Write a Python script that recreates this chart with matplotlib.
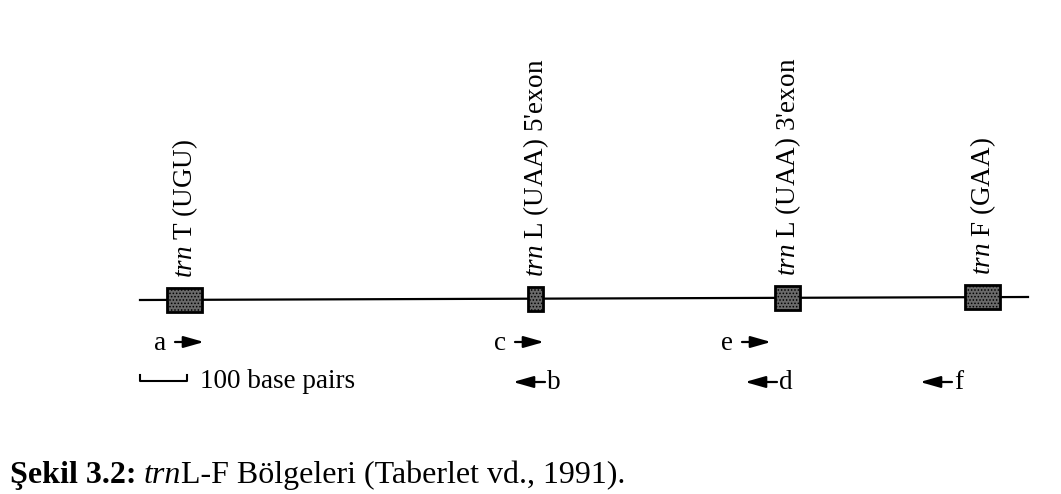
import matplotlib
matplotlib.use('Agg')
import matplotlib.pyplot as plt
from matplotlib.patches import Rectangle

plt.rcParams['font.family'] = ['Liberation Serif', 'DejaVu Serif']
plt.rcParams['mathtext.fontset'] = 'custom'
plt.rcParams['mathtext.rm'] = 'Liberation Serif'
plt.rcParams['mathtext.it'] = 'Liberation Serif:italic'
plt.rcParams['mathtext.bf'] = 'Liberation Serif:bold'
plt.rcParams['hatch.linewidth'] = 0.7

# gen bölgeleri (konumlar görüntü pikselinde okundu)
gen_adlari = ['T (UGU)', "L (UAA) 5'exon", "L (UAA) 3'exon", 'F (GAA)']
gen_bas = [167, 528, 775, 965]
gen_son = [202, 543, 800, 1000]

# ana çizgi
hat_x = [140, 1028]
hat_y = [300, 297]

# primerler
ileri_adlar = ['a', 'c', 'e']
ileri_x = [175, 515, 742]
geri_adlar = ['b', 'd', 'f']
geri_x = [545, 777, 952]
primer_boy = 29

# ölçek çubuğu
olcek_x = [140, 187]
olcek_etiket = '100 base pairs'

baslik_parcalari = [('Şekil 3.2:', 'bold', 'normal'),
                    ('trn', 'normal', 'italic'),
                    ('L-F Bölgeleri (Taberlet vd., 1991).', 'normal', 'normal')]

fig = plt.figure(figsize=(10.61, 4.94), dpi=100)
ax = fig.add_axes([0, 0, 1, 1])
ax.set_xlim(0, 1061)
ax.set_ylim(494, 0)
ax.axis('off')

# ana çizgi
ax.plot(hat_x, hat_y, color='black', lw=1.6, zorder=1)

def hat_yuksekligi(x):
    return hat_y[0] + (hat_y[1] - hat_y[0]) * (x - hat_x[0]) / (hat_x[1] - hat_x[0])

# kutular ve etiketler
for ad, b, s in zip(gen_adlari, gen_bas, gen_son):
    orta = (b + s) / 2
    yc = hat_yuksekligi(orta)
    ax.add_patch(Rectangle((b, yc - 12), s - b, 24, facecolor='#6a6a6a',
                           edgecolor='black', hatch='.....', lw=2, zorder=2))
    ax.text(orta + 1, yc - 22, r'$\it{trn}$ ' + ad, rotation=90, ha='center', va='bottom',
            fontsize=19.5)

ok_stil = '-|>,head_length=0.95,head_width=0.27'

# ileri primerler
for ad, x in zip(ileri_adlar, ileri_x):
    y = 342
    ax.annotate('', xy=(x + primer_boy, y), xytext=(x, y),
                arrowprops=dict(arrowstyle=ok_stil, mutation_scale=13, lw=1.6,
                                color='black', shrinkA=0, shrinkB=0))
    ax.text(x - 9, y + 1, ad, ha='right', va='center', fontsize=19.5)

# geri primerler
for ad, x in zip(geri_adlar, geri_x):
    y = 382
    ax.annotate('', xy=(x - primer_boy - 3, y), xytext=(x, y),
                arrowprops=dict(arrowstyle=ok_stil, mutation_scale=13, lw=1.6,
                                color='black', shrinkA=0, shrinkB=0))
    ax.text(x + 2, y, ad, ha='left', va='center', fontsize=19.5)

# ölçek çubuğu
ax.plot([olcek_x[0], olcek_x[0], olcek_x[1], olcek_x[1]], [375, 381, 381, 375],
        color='black', lw=1.5)
ax.text(olcek_x[1] + 13, 381, olcek_etiket, ha='left', va='center', fontsize=19.5)

# şekil başlığı
fig.canvas.draw()
r = fig.canvas.get_renderer()
x = 10
for i, (metin, kalinlik, stil) in enumerate(baslik_parcalari):
    t = ax.text(x, 483, metin, ha='left', va='baseline', fontsize=23,
                fontweight=kalinlik, fontstyle=stil)
    bb = t.get_window_extent(r)
    x = bb.x1 + (7 if i == 0 else 0)

fig.savefig('out.png', dpi=100, facecolor='white')
